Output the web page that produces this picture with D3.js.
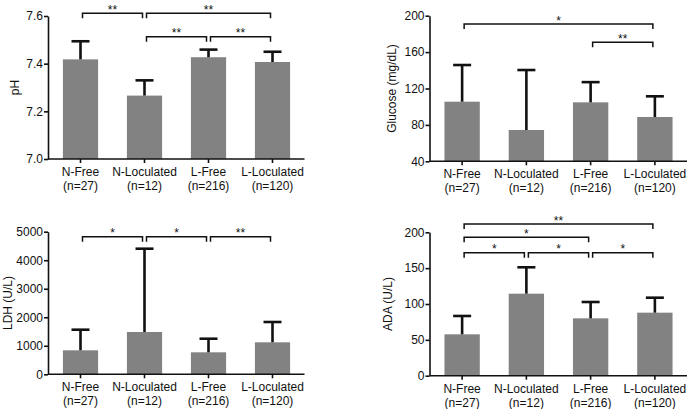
<!DOCTYPE html>
<html>
<head>
<meta charset="utf-8">
<script src="https://cdn.jsdelivr.net/npm/d3@7"></script>
<style>
  body { margin: 0; background: #fff; }
  svg { display: block; font-family: "Liberation Sans", Arial, sans-serif; }
</style>
</head>
<body>
<div class="chart-box"></div>
<script>
// groups and sample sizes
var groups = ['N-Free', 'N-Loculated', 'L-Free', 'L-Loculated']
var nLabels = ['(n=27)', '(n=12)', '(n=216)', '(n=120)']

// means and SD
var phMean = [7.418, 7.266, 7.427, 7.407]
var phSD = [0.076, 0.064, 0.032, 0.043]
var gluMean = [105.5, 74.4, 104.8, 88.7]
var gluSD = [40.3, 65.9, 22.2, 22.7]
var ldhMean = [841, 1483, 771, 1122]
var ldhSD = [723, 2921, 477, 712]
var adaMean = [57.7, 114.4, 80, 87.9]
var adaSD = [25.6, 36.8, 22.8, 20.9]

// tick values
var phTicks = [7.0, 7.2, 7.4, 7.6]
var gluTicks = [40, 80, 120, 160, 200]
var ldhTicks = [0, 1000, 2000, 3000, 4000, 5000]
var adaTicks = [0, 50, 100, 150, 200]

// comparisons: [from, to, label, row]
var phComp = [[0, 1, '**', 0], [1, 3, '**', 0], [1, 2, '**', 1], [2, 3, '**', 1]]
var gluComp = [[0, 3, '*', 0], [2, 3, '**', 1]]
var ldhComp = [[0, 1, '*', 0], [1, 2, '*', 0], [2, 3, '**', 0]]
var adaComp = [[0, 3, '**', 0], [0, 2, '*', 1], [0, 1, '*', 2], [1, 2, '*', 2], [2, 3, '*', 2]]

var width = 690
var height = 409

var svg = d3.select('div.chart-box')
    .append('svg')
    .attr('width', width)
    .attr('height', height)

// layout of the four panels (pixels)
var panels = [
  { title: 'pH', mean: phMean, sd: phSD, ticks: phTicks, comp: phComp, fmt: d3.format('.1f'),
    x0: 48.5, x1: 304.5, yTop: 16, yBot: 159, titleX: 15, rows: [13.3, 36.7] },
  { title: 'Glucose (mg/dL)', mean: gluMean, sd: gluSD, ticks: gluTicks, comp: gluComp, fmt: d3.format('d'),
    x0: 430, x1: 687, yTop: 15.7, yBot: 161.3, titleX: 391.5, rows: [24, 42.3] },
  { title: 'LDH (U/L)', mean: ldhMean, sd: ldhSD, ticks: ldhTicks, comp: ldhComp, fmt: d3.format('d'),
    x0: 48.5, x1: 304.5, yTop: 231.7, yBot: 374.3, titleX: 8, rows: [236.7] },
  { title: 'ADA (U/L)', mean: adaMean, sd: adaSD, ticks: adaTicks, comp: adaComp, fmt: d3.format('d'),
    x0: 430, x1: 687, yTop: 232.3, yBot: 375.7, titleX: 388, rows: [224, 237.3, 252.7] }
]

var barColor = '#828282'
var ink = '#111'

panels.forEach(function (p) {
  var g = svg.append('g')

  var x = d3.scaleBand()
      .domain(groups)
      .range([p.x0, p.x1])
      .paddingInner(0.45)
      .paddingOuter(0.225)

  var y = d3.scaleLinear()
      .domain([p.ticks[0], p.ticks[p.ticks.length - 1]])
      .range([p.yBot, p.yTop])

  var cx = function (i) { return x(groups[i]) + x.bandwidth() / 2 }

  // bars
  g.selectAll('rect.bar')
    .data(p.mean)
    .enter()
    .append('rect')
      .attr('class', 'bar')
      .attr('x', function (d, i) { return x(groups[i]) })
      .attr('width', x.bandwidth())
      .attr('y', function (d) { return y(d) })
      .attr('height', function (d) { return y.range()[0] - y(d) })
      .style('fill', barColor)

  // upper error bars only
  var capW = 18
  var err = g.selectAll('g.err')
    .data(p.mean)
    .enter()
    .append('g')
      .attr('class', 'err')
      .style('stroke', ink)
      .style('stroke-width', 2.6)

  err.append('line')
      .attr('x1', function (d, i) { return cx(i) })
      .attr('x2', function (d, i) { return cx(i) })
      .attr('y1', function (d) { return y(d) })
      .attr('y2', function (d, i) { return y(d + p.sd[i]) })

  err.append('line')
      .attr('x1', function (d, i) { return cx(i) - capW / 2 })
      .attr('x2', function (d, i) { return cx(i) + capW / 2 })
      .attr('y1', function (d, i) { return y(d + p.sd[i]) })
      .attr('y2', function (d, i) { return y(d + p.sd[i]) })

  // y axis
  var yAxis = g.append('g')
      .attr('transform', 'translate(' + (p.x0 - 0.5) + ',0)')
      .call(d3.axisLeft(y).tickValues(p.ticks).tickFormat(p.fmt).tickSize(4).tickSizeOuter(0).tickPadding(1))

  // x axis, labels added by hand as two lines
  var xAxis = g.append('g')
      .attr('transform', 'translate(0,' + p.yBot + ')')
      .call(d3.axisBottom(x).tickSize(4).tickSizeOuter(0))

  xAxis.select('.domain').attr('d', 'M' + (p.x0 - 0.5) + ',0H' + p.x1)
  xAxis.selectAll('.tick text').remove()
  xAxis.selectAll('.tick').each(function (d, i) {
    var t = d3.select(this).append('text')
        .attr('fill', ink)
        .attr('text-anchor', 'middle')
    t.append('tspan').attr('x', 0).attr('y', 17).text(d)
    t.append('tspan').attr('x', 0).attr('y', 31).text(nLabels[i])
  })

  g.selectAll('.domain, .tick line')
      .style('stroke', ink)
      .style('stroke-width', 1.6)
  g.selectAll('.tick text')
      .attr('fill', ink)
      .style('font-size', '12px')
      .style('font-family', '"Liberation Sans", Arial, sans-serif')

  // axis title
  g.append('text')
      .attr('transform', 'translate(' + p.titleX + ',' + ((p.yTop + p.yBot) / 2) + ') rotate(-90)')
      .attr('text-anchor', 'middle')
      .attr('dominant-baseline', 'central')
      .style('font-size', '12px')
      .attr('fill', ink)
      .text(p.title)

  // significance brackets
  var gap = 2
  var drop = 5
  var br = g.selectAll('g.bracket')
    .data(p.comp)
    .enter()
    .append('g')
      .attr('class', 'bracket')

  br.append('path')
      .attr('d', function (c) {
        var a = cx(c[0]) + gap
        var b = cx(c[1]) - gap
        var yy = p.rows[c[3]]
        return 'M' + a + ',' + (yy + drop) + 'V' + yy + 'H' + b + 'V' + (yy + drop)
      })
      .style('fill', 'none')
      .style('stroke', ink)
      .style('stroke-width', 1.5)

  br.append('text')
      .attr('x', function (c) { return (cx(c[0]) + cx(c[1])) / 2 })
      .attr('y', function (c) { return p.rows[c[3]] + 0.5 })
      .attr('text-anchor', 'middle')
      .style('font-size', '12px')
      .attr('fill', ink)
      .text(function (c) { return c[2] })
})
</script>
</body>
</html>
